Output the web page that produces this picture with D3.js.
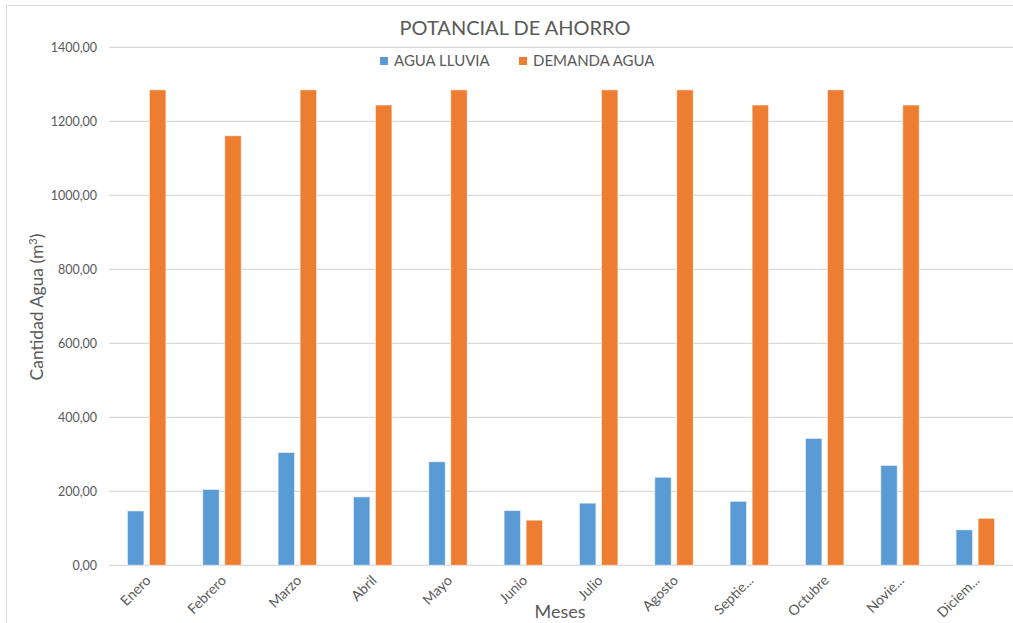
<!DOCTYPE html>
<html>
<head>
<meta charset="utf-8">
<script src="https://cdn.jsdelivr.net/npm/d3@7"></script>
<style>
  html, body { margin: 0; padding: 0; background: #fff; }
  svg { display: block; font-family: Lato, "Open Sans", sans-serif; }
</style>
</head>
<body>
<svg id="chart" width="1013" height="623"></svg>
<script>
// Monthly rainwater collection vs. water demand (m³)
const months = ["Enero", "Febrero", "Marzo", "Abril", "Mayo", "Junio", "Julio",
                "Agosto", "Septie...", "Octubre", "Novie...", "Diciem..."];
const aguaLluvia = [147, 205, 305, 185, 280, 148, 168, 238, 173, 343, 270, 96];
const demandaAgua = [1285, 1161, 1285, 1244, 1285, 122, 1285, 1285, 1244, 1285, 1244, 127];
const seriesNames = ["AGUA LLUVIA", "DEMANDA AGUA"];
const yTicks = [0, 200, 400, 600, 800, 1000, 1200, 1400];

const colors = ["#5B9BD5", "#ED7D31"];
const textColor = "#595959";

const svg = d3.select("#chart");
const W = 1013, H = 623;
const plot = { left: 109, right: 1013, top: 47.3, bottom: 565.3 };

// outer chart frame
svg.append("path")
  .attr("d", `M6.5,${H} V5.5 H${W}`)
  .attr("fill", "none")
  .attr("stroke", "#D9D9D9")
  .attr("stroke-width", 1);

const x = d3.scaleBand().domain(months).range([plot.left, plot.right]).padding(0);
const y = d3.scaleLinear().domain([0, 1400]).range([plot.bottom, plot.top]);
const fmt = v => d3.format(".2f")(v).replace(".", ",");

// gridlines
svg.append("g")
  .selectAll("line")
  .data(yTicks)
  .join("line")
  .attr("x1", plot.left).attr("x2", plot.right)
  .attr("y1", d => y(d)).attr("y2", d => y(d))
  .attr("stroke", "#D9D9D9").attr("stroke-width", 1.3);

// y axis labels
const yAxis = d3.axisLeft(y).tickValues(yTicks).tickFormat(fmt).tickSize(0).tickPadding(12);
svg.append("g")
  .attr("transform", `translate(${plot.left},0)`)
  .call(yAxis)
  .call(g => g.select(".domain").remove())
  .call(g => g.selectAll("text")
    .attr("fill", textColor)
    .style("font-family", "Lato, sans-serif")
    .style("font-size", "12.5px"));

// bars: two series side by side inside each month band
const sub = d3.scaleBand().domain([0, 1]).range([0, x.bandwidth()]).paddingInner(0.25).paddingOuter(0.836);
const data = months.map((m, i) => ({ m, vals: [aguaLluvia[i], demandaAgua[i]] }));
const groups = svg.append("g").selectAll("g")
  .data(data)
  .join("g")
  .attr("transform", d => `translate(${x(d.m)},0)`);
groups.selectAll("rect")
  .data(d => d.vals.map((v, k) => ({ v, k })))
  .join("rect")
  .attr("x", d => sub(d.k))
  .attr("width", sub.bandwidth())
  .attr("y", d => y(d.v))
  .attr("height", d => y(0) - y(d.v))
  .attr("fill", d => colors[d.k])
  .attr("stroke", "#ffffff")
  .attr("stroke-opacity", 0.6)
  .attr("stroke-width", 1);

// x axis labels (rotated)
const xAxis = d3.axisBottom(x).tickSize(0).tickPadding(0);
svg.append("g")
  .attr("transform", `translate(0,${plot.bottom})`)
  .call(xAxis)
  .call(g => g.select(".domain").remove())
  .call(g => g.selectAll("text")
    .attr("fill", textColor)
    .style("font-family", "Lato, sans-serif")
    .style("font-size", "14px")
    .attr("text-anchor", "end")
    .attr("dy", null)
    .attr("y", 0)
    .attr("transform", "translate(5,16) rotate(-45)"));

// title
svg.append("text")
  .attr("x", 515).attr("y", 35)
  .attr("text-anchor", "middle")
  .attr("fill", textColor)
  .style("font-size", "20px")
  .text("POTANCIAL DE AHORRO");

// legend
const legend = svg.append("g");
const legendX = [380, 519];
seriesNames.forEach((name, i) => {
  legend.append("rect")
    .attr("x", legendX[i]).attr("y", 57)
    .attr("width", 8).attr("height", 8)
    .attr("fill", colors[i]);
  legend.append("text")
    .attr("x", legendX[i] + 14).attr("y", 66)
    .attr("fill", textColor)
    .style("font-size", "15px")
    .text(name);
});

// axis titles
svg.append("text")
  .attr("transform", "translate(43,307) rotate(-90)")
  .attr("text-anchor", "middle")
  .attr("fill", textColor)
  .style("font-size", "17.5px")
  .html('Cantidad Agua (m<tspan dy="-6" font-size="11px">3</tspan><tspan dy="6">)</tspan>');

svg.append("text")
  .attr("x", 560).attr("y", 618)
  .attr("text-anchor", "middle")
  .attr("fill", textColor)
  .style("font-size", "18px")
  .text("Meses");
</script>
</body>
</html>
